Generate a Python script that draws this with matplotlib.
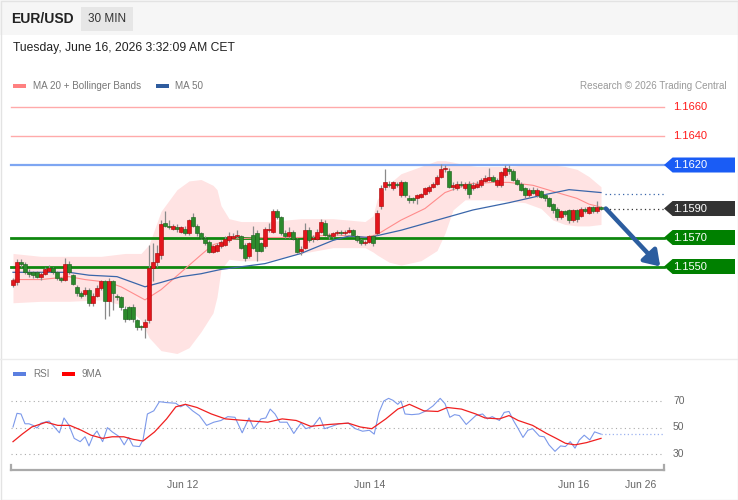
import matplotlib
matplotlib.use("Agg")
import matplotlib.pyplot as plt
from matplotlib.patches import Rectangle, Polygon, FancyArrowPatch

plt.rcParams["font.family"] = ["Liberation Sans", "DejaVu Sans"]

# ---- price candles (30 min), index 0..147 ----
opens = [1.1537, 1.1539, 1.1553, 1.1552, 1.1546, 1.1546, 1.1546, 1.1543, 1.1545, 1.1547,
         1.1549, 1.1546, 1.1542, 1.1541, 1.1552, 1.1544, 1.1536, 1.1532, 1.1531, 1.1534,
         1.1525, 1.1530, 1.1535, 1.1540, 1.1526, 1.1540, 1.1530, 1.1529, 1.1521, 1.1522,
         1.1522, 1.1513, 1.1509, 1.1508, 1.1513, 1.1549, 1.1553, 1.1558, 1.1580, 1.1578,
         1.1576, 1.1577, 1.1574, 1.1576, 1.1573, 1.1584, 1.1578, 1.1573, 1.1570, 1.1567,
         1.1560, 1.1561, 1.1564, 1.1565, 1.1568, 1.1570, 1.1571, 1.1571, 1.1565, 1.1557,
         1.1572, 1.1573, 1.1566, 1.1564, 1.1575, 1.1574, 1.1588, 1.1584, 1.1573, 1.1571,
         1.1574, 1.1569, 1.1561, 1.1563, 1.1575, 1.1569, 1.1569, 1.1574, 1.1580, 1.1572,
         1.1571, 1.1573, 1.1574, 1.1573, 1.1574, 1.1575, 1.1571, 1.1568, 1.1566, 1.1567,
         1.1571, 1.1573, 1.1592, 1.1605, 1.1607, 1.1604, 1.1607, 1.1599, 1.1608, 1.1597,
         1.1597, 1.1597, 1.1598, 1.1600, 1.1602, 1.1605, 1.1607, 1.1612, 1.1617, 1.1616,
         1.1605, 1.1604, 1.1607, 1.1604, 1.1607, 1.1604, 1.1605, 1.1606, 1.1609, 1.1610,
         1.1612, 1.1606, 1.1606, 1.1613, 1.1617, 1.1616, 1.1610, 1.1607, 1.1604, 1.1599,
         1.1603, 1.1599, 1.1602, 1.1599, 1.1597, 1.1593, 1.1590, 1.1584, 1.1588, 1.1589,
         1.1582, 1.1589, 1.1585, 1.1590, 1.1587, 1.1591, 1.1588, 1.1591]
highs = [1.1542, 1.1555, 1.1555, 1.1553, 1.1548, 1.1547, 1.1547, 1.1546, 1.1550, 1.1551,
         1.1550, 1.1547, 1.1543, 1.1556, 1.1554, 1.1545, 1.1537, 1.1533, 1.1536, 1.1535,
         1.1532, 1.1537, 1.1541, 1.1541, 1.1542, 1.1541, 1.1531, 1.1530, 1.1523, 1.1523,
         1.1524, 1.1514, 1.1510, 1.1514, 1.1565, 1.1566, 1.1565, 1.1582, 1.1588, 1.1582,
         1.1579, 1.1579, 1.1578, 1.1578, 1.1583, 1.1587, 1.1579, 1.1574, 1.1571, 1.1568,
         1.1565, 1.1566, 1.1568, 1.1571, 1.1574, 1.1573, 1.1575, 1.1572, 1.1566, 1.1567,
         1.1578, 1.1575, 1.1567, 1.1577, 1.1580, 1.1590, 1.1590, 1.1585, 1.1575, 1.1577,
         1.1575, 1.1570, 1.1564, 1.1580, 1.1577, 1.1572, 1.1576, 1.1583, 1.1582, 1.1573,
         1.1574, 1.1575, 1.1575, 1.1575, 1.1577, 1.1576, 1.1572, 1.1569, 1.1568, 1.1572,
         1.1572, 1.1589, 1.1606, 1.1617, 1.1609, 1.1609, 1.1608, 1.1610, 1.1609, 1.1599,
         1.1598, 1.1600, 1.1601, 1.1605, 1.1606, 1.1608, 1.1613, 1.1621, 1.1620, 1.1618,
         1.1608, 1.1609, 1.1609, 1.1608, 1.1609, 1.1608, 1.1609, 1.1611, 1.1613, 1.1618,
         1.1613, 1.1611, 1.1616, 1.1620, 1.1620, 1.1617, 1.1611, 1.1608, 1.1605, 1.1604,
         1.1605, 1.1604, 1.1603, 1.1600, 1.1598, 1.1594, 1.1591, 1.1589, 1.1589, 1.1590,
         1.1590, 1.1590, 1.1591, 1.1591, 1.1592, 1.1592, 1.1595, 1.1592]
lows = [1.1536, 1.1537, 1.1550, 1.1545, 1.1543, 1.1542, 1.1542, 1.1541, 1.1544, 1.1546,
        1.1545, 1.1541, 1.1539, 1.1540, 1.1545, 1.1537, 1.1530, 1.1528, 1.1530, 1.1523,
        1.1523, 1.1529, 1.1534, 1.1514, 1.1516, 1.1520, 1.1527, 1.1520, 1.1512, 1.1513,
        1.1512, 1.1506, 1.1506, 1.1501, 1.1511, 1.1540, 1.1550, 1.1555, 1.1577, 1.1576,
        1.1575, 1.1574, 1.1573, 1.1572, 1.1572, 1.1577, 1.1571, 1.1569, 1.1565, 1.1559,
        1.1559, 1.1560, 1.1563, 1.1564, 1.1567, 1.1569, 1.1570, 1.1562, 1.1554, 1.1556,
        1.1562, 1.1554, 1.1560, 1.1563, 1.1574, 1.1573, 1.1583, 1.1572, 1.1570, 1.1570,
        1.1568, 1.1559, 1.1558, 1.1562, 1.1567, 1.1567, 1.1568, 1.1573, 1.1571, 1.1569,
        1.1570, 1.1572, 1.1572, 1.1572, 1.1573, 1.1571, 1.1567, 1.1565, 1.1565, 1.1566,
        1.1564, 1.1572, 1.1590, 1.1603, 1.1605, 1.1603, 1.1605, 1.1598, 1.1598, 1.1594,
        1.1594, 1.1593, 1.1597, 1.1599, 1.1601, 1.1604, 1.1606, 1.1611, 1.1615, 1.1604,
        1.1603, 1.1603, 1.1605, 1.1603, 1.1597, 1.1603, 1.1604, 1.1605, 1.1608, 1.1609,
        1.1608, 1.1605, 1.1605, 1.1612, 1.1614, 1.1609, 1.1606, 1.1602, 1.1597, 1.1598,
        1.1600, 1.1598, 1.1597, 1.1595, 1.1591, 1.1587, 1.1582, 1.1583, 1.1585, 1.1580,
        1.1581, 1.1581, 1.1584, 1.1587, 1.1586, 1.1587, 1.1587, 1.1589]
closes = [1.1541, 1.1553, 1.1552, 1.1546, 1.1545, 1.1544, 1.1543, 1.1545, 1.1548, 1.1549,
          1.1546, 1.1542, 1.1541, 1.1552, 1.1546, 1.1538, 1.1532, 1.1530, 1.1534, 1.1525,
          1.1530, 1.1535, 1.1540, 1.1526, 1.1540, 1.1532, 1.1529, 1.1522, 1.1514, 1.1514,
          1.1514, 1.1508, 1.1508, 1.1512, 1.1549, 1.1553, 1.1559, 1.1579, 1.1578, 1.1577,
          1.1578, 1.1576, 1.1577, 1.1573, 1.1582, 1.1578, 1.1573, 1.1570, 1.1566, 1.1560,
          1.1564, 1.1565, 1.1567, 1.1569, 1.1571, 1.1571, 1.1572, 1.1563, 1.1556, 1.1566,
          1.1563, 1.1561, 1.1561, 1.1576, 1.1576, 1.1588, 1.1584, 1.1573, 1.1571, 1.1574,
          1.1569, 1.1560, 1.1562, 1.1575, 1.1568, 1.1570, 1.1574, 1.1581, 1.1572, 1.1571,
          1.1573, 1.1574, 1.1573, 1.1574, 1.1575, 1.1572, 1.1568, 1.1566, 1.1567, 1.1571,
          1.1566, 1.1587, 1.1604, 1.1608, 1.1606, 1.1608, 1.1606, 1.1608, 1.1599, 1.1596,
          1.1596, 1.1599, 1.1600, 1.1604, 1.1605, 1.1607, 1.1612, 1.1617, 1.1618, 1.1605,
          1.1606, 1.1607, 1.1606, 1.1607, 1.1600, 1.1606, 1.1607, 1.1610, 1.1611, 1.1612,
          1.1609, 1.1610, 1.1615, 1.1618, 1.1616, 1.1610, 1.1607, 1.1603, 1.1599, 1.1603,
          1.1601, 1.1603, 1.1598, 1.1597, 1.1592, 1.1589, 1.1584, 1.1588, 1.1586, 1.1582,
          1.1589, 1.1583, 1.1590, 1.1588, 1.1591, 1.1588, 1.1591, 1.1590]

# ---- moving averages (read at sample candles) ----
ma20_idx = [0, 7, 14, 18, 24, 27, 33, 37, 42, 47, 50, 55, 63, 72, 80, 88, 91, 97, 103,
            108, 114, 120, 124, 130, 136, 141, 144, 147]
ma20_val = [1.1541, 1.1541, 1.1543, 1.1541, 1.1539, 1.1536, 1.1527, 1.1534, 1.1546, 1.1558,
            1.1565, 1.1569, 1.1570, 1.1570, 1.1572, 1.1570, 1.1572, 1.1582, 1.1590, 1.1601,
            1.1607, 1.1608, 1.1608, 1.1606, 1.1601, 1.1597, 1.1593, 1.1591]
ma50_idx = [0, 7, 14, 19, 26, 33, 37, 42, 47, 52, 63, 72, 80, 84, 89, 97, 106, 115, 124,
            132, 139, 143, 147]
ma50_val = [1.1546, 1.1546, 1.1546, 1.1544, 1.1543, 1.1536, 1.1539, 1.1543, 1.1545, 1.1548,
            1.1552, 1.1559, 1.1568, 1.1571, 1.1570, 1.1575, 1.1582, 1.1589, 1.1594, 1.1599,
            1.1603, 1.1602, 1.1601]
band_idx = [0, 7, 14, 22, 28, 32, 34, 37, 41, 44, 47, 50, 51, 52, 54, 57, 64, 72, 80, 88,
            90, 91, 94, 97, 102, 106, 108, 110, 113, 116, 120, 124, 128, 132, 135, 138, 141,
            144, 147]
band_upper = [1.1559, 1.1557, 1.1557, 1.1557, 1.1559, 1.1559, 1.1565, 1.1588, 1.1603, 1.1609,
              1.1610, 1.1606, 1.1603, 1.1592, 1.1583, 1.1581, 1.1581, 1.1583, 1.1583, 1.1581,
              1.1585, 1.1596, 1.1607, 1.1614, 1.1619, 1.1623, 1.1623, 1.1622, 1.1620, 1.1619,
              1.1619, 1.1619, 1.1620, 1.1620, 1.1620, 1.1619, 1.1617, 1.1612, 1.1605]
band_lower = [1.1525, 1.1526, 1.1526, 1.1527, 1.1523, 1.1513, 1.1501, 1.1492, 1.1490, 1.1494,
              1.1505, 1.1518, 1.1529, 1.1548, 1.1555, 1.1554, 1.1554, 1.1559, 1.1563, 1.1563,
              1.1560, 1.1558, 1.1553, 1.1551, 1.1554, 1.1561, 1.1573, 1.1589, 1.1596, 1.1596,
              1.1596, 1.1595, 1.1594, 1.1590, 1.1582, 1.1579, 1.1578, 1.1578, 1.1579]
ma50_projection = 1.1600
last_price = 1.1590

# ---- key levels ----
resist_levels = [1.1660, 1.1640]
pivot_level = 1.1620
support_levels = [1.1570, 1.1550]
target_level = 1.1550

# ---- RSI panel ----
rsi_idx = [0, 1, 2, 3, 4, 5, 6, 7, 9, 10, 11.6, 12.75, 14, 15.3, 16.8, 18, 19, 20, 21,
           22.4, 23.6, 24.8, 26.6, 27.8, 28.9, 30, 31.6, 32.5, 33.6, 35.2, 36.6, 38.4, 40.7,
           41.9, 43.1, 44.9, 46.6, 48.4, 50.2, 52, 53.7, 55.5, 57.3, 59, 60.2, 62, 63.2,
           64.3, 65.5, 66.7, 68.5, 70.2, 72, 73.2, 75, 76.7, 77.9, 79.7, 81.5, 83.8, 85.6,
           87.4, 89.1, 90.3, 91.5, 92.7, 93.9, 95, 96.2, 97, 98, 99.7, 101.5, 103.3, 105,
           106.8, 108, 109.2, 110.4, 111.6, 113.3, 115.7, 117.4, 118.6, 119.8, 121.6, 122.8,
           124, 125.1, 126.3, 127.5, 128.7, 129.9, 131.6, 132.8, 134, 135.5, 136.9, 138.1,
           139.3, 140.5, 141.6, 142.8, 144.2, 145.4, 147]
rsi_val = [50.4, 60.7, 60.2, 52.8, 52.8, 51.6, 49.6, 53.3, 54.8, 51.6, 46.0, 57.2, 51.6,
           41.8, 39.3, 43.0, 36.1, 43.5, 47.4, 39.3, 49.9, 46.7, 43.0, 36.9, 42.5, 36.1, 35.6,
           40.6, 60.2, 62.6, 69.5, 68.8, 68.3, 65.6, 67.5, 62.6, 59.0, 51.6, 54.0, 55.3, 58.2,
           57.7, 46.0, 57.2, 49.1, 56.5, 57.2, 63.9, 60.2, 54.0, 54.0, 45.5, 53.3, 49.1, 50.9,
           57.7, 49.1, 50.9, 52.8, 53.3, 49.1, 47.2, 47.9, 45.0, 61.4, 70.0, 72.0, 70.5, 67.5,
           70.0, 60.2, 59.7, 60.2, 62.6, 66.3, 72.0, 68.0, 57.7, 59.7, 59.0, 52.3, 59.0, 60.2,
           56.5, 58.2, 55.3, 61.4, 62.1, 55.3, 49.1, 42.5, 47.9, 49.1, 43.5, 43.0, 36.9, 32.0,
           36.1, 35.6, 39.3, 34.4, 40.6, 44.2, 40.6, 46.7, 45.0]
rsi_ma_idx = [0, 2.3, 4.7, 8.3, 11.2, 14.2, 17.1, 19.5, 22.4, 24.8, 27.7, 30.1, 32.5, 35.4,
              38.4, 40.7, 43.1, 46, 49.6, 53.1, 57.9, 63.7, 67.3, 70.8, 74.4, 79.1, 83.8,
              86.8, 89.7, 93.2, 96.2, 99.1, 102.7, 106.2, 108.6, 112.1, 115.7, 118, 121.6,
              124, 126.3, 129.9, 133.4, 135.8, 138.1, 140.5, 143.4, 147]
rsi_ma_val = [39.3, 45.0, 50.4, 54.0, 51.6, 51.6, 47.9, 44.2, 41.8, 43.0, 43.0, 41.0, 39.8,
              46.7, 56.5, 65.6, 67.5, 65.1, 60.2, 56.5, 55.3, 54.0, 56.5, 55.3, 50.9, 52.3,
              53.3, 50.4, 49.1, 56.5, 63.9, 67.5, 62.6, 62.1, 65.1, 63.9, 60.2, 57.2, 56.5,
              59.0, 55.3, 51.6, 45.5, 41.8, 38.1, 36.9, 38.6, 41.8]
rsi_levels = [70, 50, 30]
date_labels = ["Jun 12", "Jun 14", "Jun 16", "Jun 26"]
date_pos = [42.5, 89.25, 140.25, 157]

UP = "#e3151c"
UP_EDGE = "#a80000"
DOWN = "#2c8a2c"
DOWN_EDGE = "#175c17"
X0, X1 = -3.25, 181.25  # full figure width in candle units
LINE_END = 162.75
LABEL_X = 165.0

fig = plt.figure(figsize=(7.38, 5.0), dpi=100)

# background / frame in pixel units
bg = fig.add_axes([0, 0, 1, 1])
bg.set_xlim(0, 738)
bg.set_ylim(500, 0)
bg.axis("off")
bg.add_patch(Rectangle((0, 0), 738, 35, facecolor="#f6f6f6", edgecolor="none"))
bg.add_patch(Rectangle((0.5, 0.5), 737, 499, facecolor="none", edgecolor="#e3e3e3", lw=1))
bg.plot([0, 738], [359, 359], color="#ececec", lw=1)
bg.text(11, 19, "EUR/USD", fontsize=10, fontweight="bold", color="#222222", va="center")
bg.add_patch(Rectangle((81, 7), 52, 24, facecolor="#e6e6e6", edgecolor="none"))
bg.text(107, 19, "30 MIN", fontsize=8.5, color="#333333", va="center", ha="center")
bg.text(13, 48, "Tuesday, June 16, 2026 3:32:09 AM CET", fontsize=8.7, color="#222222",
        va="center")
bg.add_patch(Rectangle((13, 84), 13, 4, facecolor="#ff8080", edgecolor="none"))
bg.text(33, 86, "MA 20 + Bollinger Bands", fontsize=7.1, color="#777777", va="center")
bg.add_patch(Rectangle((156, 84), 13, 4, facecolor="#2f5c9e", edgecolor="none"))
bg.text(175, 86, "MA 50", fontsize=7.1, color="#777777", va="center")
bg.text(727, 86, "Research \u00a9 2026 Trading Central", fontsize=7.1, color="#999999",
        va="center", ha="right")
bg.add_patch(Rectangle((13, 372), 13, 4, facecolor="#5b7fe0", edgecolor="none"))
bg.text(33, 374, "RSI", fontsize=7.1, color="#777777", va="center")
bg.add_patch(Rectangle((62, 372), 13, 4, facecolor="#ff0000", edgecolor="none"))
bg.text(82, 374, "9MA", fontsize=7.1, color="#777777", va="center")

# ---- price panel ----
ax = fig.add_axes([0, 1 - 355 / 500, 1, 260 / 500])
ax.set_xlim(X0, X1)
ax.set_ylim(1.148897, 1.166828)
ax.axis("off")
ax.patch.set_alpha(0)

ax.fill_between(band_idx, band_lower, band_upper, color="#ffe3e3", lw=0, zorder=1)

for lvl in resist_levels:
    ax.plot([-0.5, LINE_END], [lvl, lvl], color="#ffaaaa", lw=1, zorder=2)
    ax.text(LABEL_X, lvl, f"{lvl:.4f}", color="#ff1a1a", fontsize=8, va="center", zorder=5)
ax.plot([-0.5, LINE_END], [pivot_level, pivot_level], color="#7ea6f2", lw=1.6, zorder=2)
for lvl in support_levels:
    ax.plot([-0.5, LINE_END], [lvl, lvl], color="#0f870f", lw=2, zorder=2)

ax.plot(ma20_idx, ma20_val, color="#ff8c8c", lw=0.8, zorder=3)
ax.plot(ma50_idx, ma50_val, color="#3a66aa", lw=0.9, zorder=3)
ax.plot([ma50_idx[-1] + 1, LINE_END], [ma50_projection, ma50_projection], color="#3a66aa",
        lw=0.9, ls=(0, (1, 2.5)), zorder=3)
ax.plot([len(closes), LINE_END], [last_price, last_price], color="#333333", lw=0.9,
        ls=(0, (1, 2.5)), zorder=3)

for i, (o, h, l, c) in enumerate(zip(opens, highs, lows, closes)):
    ax.plot([i, i], [l, h], color="#8a8a8a", lw=0.9, zorder=4, solid_capstyle="butt")
    up = c >= o
    bottom = min(o, c)
    height = max(abs(c - o), 0.00006)
    ax.add_patch(Rectangle((i - 0.38, bottom), 0.76, height,
                           facecolor=UP if up else DOWN,
                           edgecolor=UP_EDGE if up else DOWN_EDGE, lw=0.4, zorder=5))

# level labels on the right
half_h = 7.5 / 14500


def tag(level, color):
    pts = [(LINE_END, level), (164.9, level + half_h), (180.5, level + half_h),
           (180.5, level - half_h), (164.9, level - half_h)]
    ax.add_patch(Polygon(pts, closed=True, facecolor=color, edgecolor="none", zorder=6,
                         clip_on=False))
    ax.text(LABEL_X, level, f"{level:.4f}", color="white", fontsize=8, va="center", zorder=7)


tag(pivot_level, "#1a5cf5")
tag(last_price, "#333333")
for lvl in support_levels:
    tag(lvl, "#008000")

ax.add_patch(FancyArrowPatch((148.2, last_price), (161.8, target_level),
                             arrowstyle="-|>,head_length=6,head_width=4",
                             mutation_scale=1.5, shrinkA=0, shrinkB=0,
                             color="#2c5d9f", lw=3.2, zorder=6))

# ---- RSI panel ----
rx = fig.add_axes([0, 1 - 470 / 500, 1, 85 / 500])
rx.set_xlim(X0, X1)
rx.set_ylim(17.92, 82.08)
rx.patch.set_alpha(0)
for s in ["top", "left", "right"]:
    rx.spines[s].set_visible(False)
rx.spines["bottom"].set_bounds(-0.5, LINE_END)
rx.spines["bottom"].set_color("#aaaaaa")
rx.spines["bottom"].set_linewidth(1.6)
rx.set_yticks([])
rx.set_xticks(date_pos)
rx.set_xticklabels(date_labels, fontsize=7.5, color="#666666")
rx.tick_params(axis="x", length=0, pad=7)
for xe in [-0.5, LINE_END]:
    rx.plot([xe, xe], [17.92, 22.0], color="#aaaaaa", lw=1.6, clip_on=False)

for lv in rsi_levels:
    rx.plot([-0.5, LINE_END], [lv, lv], color="#aaaaaa", lw=0.8, ls=(0, (1, 3)))
    rx.text(LABEL_X, lv, str(lv), fontsize=7.5, color="#666666", va="center", ha="left")

rx.plot(rsi_idx, rsi_val, color="#7c99ea", lw=0.8)
rx.plot([rsi_idx[-1], LINE_END], [rsi_val[-1], rsi_val[-1]], color="#9db3f0", lw=0.9,
        ls=(0, (1, 2)))
rx.plot(rsi_ma_idx, rsi_ma_val, color="#f02020", lw=0.9)

fig.savefig("out.png", dpi=100)
